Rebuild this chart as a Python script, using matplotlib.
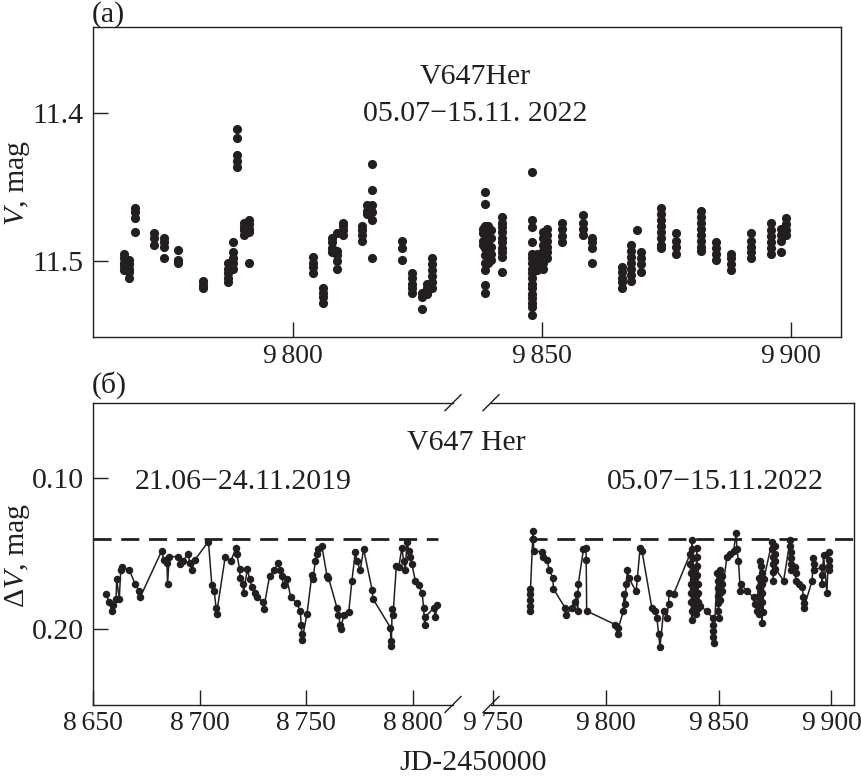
import matplotlib
matplotlib.use("Agg")
import matplotlib.pyplot as plt

plt.rcParams["font.family"] = "Liberation Serif"
plt.rcParams["mathtext.fontset"] = "custom"
plt.rcParams["mathtext.rm"] = "Liberation Serif"
plt.rcParams["mathtext.it"] = "Liberation Serif:italic"

INK = "#231f20"
FS = 21.5
TFS = 20

# (a) V magnitudes, 2022 season: one entry per night
jd_a = [9766.2, 9767.2, 9768.3, 9772.2, 9774.2, 9777.1, 9782.1, 9787.0, 9788.0, 9788.9,
        9790.2, 9791.2, 9804.1, 9806.1, 9808.0, 9809.0, 9810.1, 9814.0, 9815.0, 9816.0,
        9822.0, 9824.0, 9826.0, 9827.0, 9828.0, 9838.2, 9838.6, 9839.2, 9839.8, 9842.0,
        9848.1, 9849.0, 9850.2, 9851.0, 9854.0, 9858.2, 9860.1, 9866.2, 9868.0, 9869.2,
        9870.0, 9874.0, 9877.0, 9882.0, 9885.0, 9888.0, 9892.0, 9896.0, 9898.0, 9899.0]
v_a = [
    [11.495, 11.498, 11.501, 11.503, 11.506],
    [11.499, 11.502, 11.505, 11.507, 11.511],
    [11.464, 11.467, 11.471, 11.480],
    [11.481, 11.484, 11.489],
    [11.484, 11.487, 11.490, 11.498],
    [11.492, 11.499, 11.501],
    [11.513, 11.516, 11.518],
    [11.501, 11.505, 11.508, 11.511, 11.514],
    [11.487, 11.494, 11.498, 11.501, 11.505],
    [11.411, 11.417, 11.428, 11.432, 11.436],
    [11.474, 11.477, 11.479, 11.482],
    [11.472, 11.475, 11.478, 11.480, 11.501],
    [11.497, 11.501, 11.504, 11.508],
    [11.518, 11.521, 11.524, 11.528],
    [11.484, 11.487, 11.491, 11.494],
    [11.481, 11.493, 11.496, 11.500, 11.505],
    [11.474, 11.476, 11.479, 11.482],
    [11.476, 11.479, 11.482, 11.486],
    [11.462, 11.466, 11.468],
    [11.434, 11.452, 11.462, 11.467, 11.472, 11.498],
    [11.486, 11.491, 11.499],
    [11.508, 11.511, 11.515, 11.518, 11.521],
    [11.521, 11.524, 11.532],
    [11.515, 11.518, 11.522],
    [11.498, 11.502, 11.506, 11.510, 11.514, 11.518],
    [11.478, 11.481, 11.486, 11.489],
    [11.453, 11.461, 11.476, 11.480, 11.486, 11.491, 11.496, 11.501, 11.506, 11.516, 11.521],
    [11.476, 11.480, 11.484, 11.489, 11.493, 11.497, 11.501],
    [11.479, 11.484, 11.490, 11.495, 11.499],
    [11.470, 11.474, 11.477, 11.480, 11.484, 11.487, 11.491, 11.494, 11.497, 11.507],
    [11.440, 11.472, 11.477, 11.487, 11.495, 11.498, 11.501, 11.505, 11.508, 11.511,
     11.515, 11.518, 11.522, 11.525, 11.528, 11.531, 11.536],
    [11.495, 11.498, 11.501, 11.503, 11.506],
    [11.480, 11.484, 11.489, 11.493, 11.497, 11.501, 11.505],
    [11.478, 11.482, 11.486, 11.490, 11.494, 11.498],
    [11.474, 11.478, 11.483, 11.487],
    [11.469, 11.474, 11.478, 11.482],
    [11.484, 11.487, 11.491, 11.501],
    [11.504, 11.507, 11.511, 11.514, 11.518],
    [11.489, 11.493, 11.497, 11.501, 11.505, 11.509, 11.513],
    [11.479],
    [11.494, 11.498, 11.502, 11.507],
    [11.464, 11.468, 11.472, 11.476, 11.480, 11.484, 11.489, 11.491],
    [11.481, 11.486, 11.490, 11.495],
    [11.466, 11.470, 11.474, 11.478, 11.482, 11.486, 11.490, 11.493],
    [11.487, 11.491, 11.495, 11.499],
    [11.495, 11.498, 11.502, 11.506],
    [11.481, 11.486, 11.490, 11.494, 11.498],
    [11.474, 11.479, 11.483, 11.487, 11.491, 11.495],
    [11.478, 11.482, 11.486, 11.494],
    [11.471, 11.475, 11.479, 11.482],
]

# (б) differential magnitudes, 2019 season
jd_2019 = [8656.0, 8657.5, 8658.6, 8659.4, 8660.7, 8661.0, 8662.2, 8662.9, 8663.3, 8667.0,
           8669.6, 8671.6, 8672.0, 8682.2, 8683.0, 8684.6, 8684.9, 8685.7, 8690.0, 8690.8,
           8692.0, 8694.7, 8695.2, 8696.3, 8697.8, 8704.1, 8705.7, 8706.8, 8707.7, 8707.9,
           8712.0, 8714.6, 8717.1, 8717.4, 8718.7, 8719.0, 8720.3, 8720.6, 8722.4, 8723.4,
           8724.5, 8726.0, 8726.9, 8729.7, 8730.0, 8732.8, 8735.0, 8737.0, 8737.8, 8738.6,
           8739.4, 8741.0, 8742.8, 8745.7, 8747.2, 8747.7, 8747.9, 8748.1, 8750.4, 8752.7,
           8753.2, 8754.3, 8755.1, 8755.8, 8757.4, 8759.8, 8760.5, 8764.5, 8765.2, 8766.0,
           8766.3, 8767.6, 8770.0, 8771.5, 8773.1, 8773.9, 8775.4, 8777.0, 8781.0, 8781.4,
           8789.6, 8789.8, 8790.0, 8790.4, 8790.8, 8792.4, 8793.5, 8795.0, 8795.8, 8796.6,
           8797.4, 8798.2, 8798.9, 8799.7, 8801.3, 8802.9, 8804.5, 8805.2, 8805.7, 8806.0,
           8810.0, 8810.7, 8811.5]
dv_2019 = [0.177, 0.182, 0.188, 0.184, 0.180, 0.167, 0.180, 0.161, 0.159, 0.161,
           0.170, 0.175, 0.179, 0.148, 0.154, 0.156, 0.170, 0.152, 0.152, 0.157,
           0.155, 0.150, 0.156, 0.161, 0.154, 0.142, 0.171, 0.175, 0.186, 0.190,
           0.152, 0.155, 0.146, 0.150, 0.160, 0.166, 0.170, 0.176, 0.160, 0.167,
           0.172, 0.176, 0.179, 0.182, 0.187, 0.165, 0.161, 0.156, 0.161, 0.165,
           0.171, 0.167, 0.179, 0.183, 0.188, 0.197, 0.203, 0.207, 0.190, 0.164,
           0.167, 0.155, 0.150, 0.147, 0.145, 0.165, 0.166, 0.186, 0.191, 0.197,
           0.200, 0.191, 0.189, 0.168, 0.149, 0.155, 0.161, 0.147, 0.174, 0.180,
           0.199, 0.208, 0.211, 0.187, 0.191, 0.158, 0.159, 0.146, 0.155, 0.161,
           0.142, 0.148, 0.152, 0.157, 0.168, 0.171, 0.176, 0.186, 0.197, 0.192,
           0.186, 0.192, 0.184]

# (б) differential magnitudes, 2022 season
jd_2022 = [9766.2, 9766.3, 9766.4, 9766.5, 9766.6, 9767.6, 9767.7, 9767.9, 9768.0, 9771.6,
           9772.3, 9773.8, 9775.0, 9776.5, 9776.8, 9782.0, 9782.2, 9784.9, 9786.4, 9787.1,
           9787.5, 9787.8, 9790.1, 9791.2, 9791.3, 9791.5, 9804.1, 9805.2, 9805.6, 9807.8,
           9808.1, 9808.6, 9809.0, 9809.6, 9810.1, 9813.4, 9814.0, 9815.2, 9816.0, 9820.4,
           9821.9, 9822.6, 9823.4, 9824.0, 9825.6, 9827.0, 9827.8, 9828.0, 9830.0,
           9837.4, 9837.5, 9837.6, 9837.7, 9837.8, 9837.9, 9838.0, 9838.1,
           9838.3, 9838.4, 9838.5, 9838.6, 9838.7, 9838.8, 9838.9, 9839.0,
           9839.5, 9839.6, 9839.7, 9839.8, 9839.9, 9840.0,
           9840.3, 9840.4, 9840.5, 9840.6, 9840.7, 9840.8, 9840.9, 9841.0,
           9841.8, 9844.8, 9847.4, 9847.5, 9847.6, 9847.7, 9847.8,
           9849.4, 9849.5, 9849.6, 9849.7, 9849.8, 9849.9, 9850.0,
           9850.4, 9850.5, 9850.6, 9850.7, 9850.8, 9851.4, 9851.5, 9851.6,
           9853.7, 9855.1, 9856.6, 9857.8, 9858.1, 9858.8, 9859.6, 9859.8, 9862.6, 9865.5,
           9866.2, 9867.0, 9867.7, 9867.8, 9867.9, 9868.0, 9868.1, 9868.5,
           9868.9, 9869.0, 9869.1, 9869.2, 9869.3, 9869.4, 9869.6, 9870.0,
           9873.7, 9873.8, 9873.9, 9874.0, 9874.1, 9874.2, 9874.9, 9875.0, 9875.1, 9875.2,
           9878.8, 9881.7, 9881.8, 9881.9, 9882.0, 9882.1, 9882.2, 9884.0, 9884.1, 9884.2,
           9885.5, 9887.0, 9887.6, 9887.7, 9887.8, 9891.4, 9892.0, 9892.1, 9892.2,
           9895.7, 9895.8, 9895.9, 9896.5, 9898.0, 9898.7, 9898.8, 9898.9, 9899.0]
dv_2022 = [0.188, 0.185, 0.181, 0.177, 0.1735, 0.140, 0.1347, 0.140, 0.148, 0.149,
           0.152, 0.154, 0.161, 0.166, 0.1735, 0.186, 0.191, 0.186, 0.182, 0.177,
           0.188, 0.170, 0.147, 0.146, 0.154, 0.188, 0.197, 0.203, 0.199, 0.188,
           0.177, 0.1835, 0.170, 0.161, 0.166, 0.175, 0.166, 0.146, 0.148, 0.186,
           0.188, 0.1925, 0.203, 0.212, 0.188, 0.1925, 0.1835, 0.176, 0.177,
           0.150, 0.157, 0.163, 0.170, 0.176, 0.182, 0.188, 0.194,
           0.141, 0.147, 0.153, 0.160, 0.167, 0.173, 0.180, 0.186,
           0.160, 0.166, 0.172, 0.178, 0.184, 0.190,
           0.146, 0.152, 0.158, 0.164, 0.170, 0.176, 0.182, 0.186,
           0.185, 0.188, 0.193, 0.197, 0.201, 0.205, 0.209,
           0.163, 0.168, 0.173, 0.178, 0.183, 0.188, 0.193,
           0.161, 0.166, 0.171, 0.176, 0.181, 0.165, 0.170, 0.175,
           0.152, 0.150, 0.148, 0.1365, 0.147, 0.155, 0.175, 0.170, 0.175, 0.179,
           0.1835, 0.188, 0.166, 0.172, 0.178, 0.184, 0.190, 0.155,
           0.158, 0.163, 0.170, 0.196, 0.176, 0.182, 0.189, 0.167,
           0.142, 0.147, 0.152, 0.157, 0.162, 0.168, 0.145, 0.150, 0.155, 0.160,
           0.168, 0.141, 0.145, 0.149, 0.153, 0.157, 0.161, 0.159, 0.163, 0.168,
           0.170, 0.172, 0.179, 0.183, 0.186, 0.168, 0.153, 0.157, 0.161,
           0.159, 0.164, 0.170, 0.151, 0.176, 0.149, 0.154, 0.158, 0.161]

level_b = 0.14

fig = plt.figure(figsize=(8.62, 7.83), dpi=100)

tick_kw = dict(direction="in", length=11, width=1.0, labelsize=TFS, colors=INK)


def thin(v):
    s = f"{v:.0f}"
    return s[0] + "\u2006" + s[1:]


# --- panel (a)
top_px = 27
ax = fig.add_axes([0.1082, 1 - 337 / 783, 0.8671, (337 - top_px) / 783])
xs = [j for j, vs in zip(jd_a, v_a) for _ in vs]
ys = [v for vs in v_a for v in vs]
ax.plot(xs, ys, "o", color=INK, ms=6.6, mec="none")
ax.set_xlim(9760, 9910)
ax.set_ylim(11.551, 11.4 - (113 - top_px) / 1480)
ax.set_xticks([9800, 9850, 9900])
ax.set_xticklabels([thin(t) for t in [9800, 9850, 9900]])
ax.set_yticks([11.4, 11.5])
ax.set_yticklabels(["11.4", "11.5"])
ax.tick_params(axis="x", pad=5, **tick_kw)
ax.tick_params(axis="y", pad=7, **tick_kw)
ax.yaxis.set_tick_params(labelsize=FS)
for s in ax.spines.values():
    s.set_linewidth(1.0)
    s.set_color(INK)
fig.text(475 / 862, 1 - 77 / 783, "V647Her", ha="center", va="center", fontsize=FS, color=INK)
fig.text(475 / 862, 1 - 114 / 783, "05.07\u221215.11. 2022", ha="center", va="center",
         fontsize=FS, color=INK)

# --- panel (б), broken axis
bot, h = 1 - 704.5 / 783, (704.5 - 402.7) / 783
axl = fig.add_axes([93.3 / 862, bot, (453 - 93.3) / 862, h])
axr = fig.add_axes([491 / 862, bot, (854 - 491) / 862, h])

axl.plot(jd_2019, dv_2019, "-o", color=INK, lw=1.1, ms=5.4, mec="none")
axr.plot(jd_2022, dv_2022, "-o", color=INK, lw=1.1, ms=5.4, mec="none")
axl.plot([8650, 8812], [level_b, level_b], color=INK, lw=2.0, dashes=(6.5, 3.5))
axr.plot([9766, 9910], [level_b, level_b], color=INK, lw=2.0, dashes=(6.5, 3.5))

axl.set_xlim(8650, 8819)
axr.set_xlim(9749.1, 9910)
for a in (axl, axr):
    a.set_ylim(0.25, 0.05)
    a.tick_params(axis="x", pad=5, **tick_kw)
    a.tick_params(axis="y", pad=7, **tick_kw)
    a.yaxis.set_tick_params(labelsize=FS)
    for s in a.spines.values():
        s.set_linewidth(1.0)
        s.set_color(INK)
axl.set_xticks([8650, 8700, 8750, 8800])
axl.set_xticklabels([thin(t) for t in [8650, 8700, 8750, 8800]])
axl.set_yticks([0.10, 0.20])
axl.set_yticklabels(["0.10", "0.20"])
axr.set_xticks([9750, 9800, 9850, 9900])
axr.set_xticklabels([thin(t) for t in [9750, 9800, 9850, 9900]])
axr.set_yticks([])
axl.spines["right"].set_visible(False)
axr.spines["left"].set_visible(False)

# break marks
for a, xa in ((axl, 1.0), (axr, 0.0)):
    bb = a.get_position()
    dx = 8 / (bb.width * 862)
    dy = 8 / (bb.height * 783)
    for ya in (0.0, 1.0):
        a.plot([xa - dx, xa + dx], [ya - dy, ya + dy], transform=a.transAxes,
               color=INK, lw=1.0, clip_on=False)

fig.text(243 / 862, 1 - 482 / 783, "21.06\u221224.11.2019", ha="center", va="center",
         fontsize=FS, color=INK)
fig.text(715 / 862, 1 - 482 / 783, "05.07\u221215.11.2022", ha="center", va="center",
         fontsize=FS, color=INK)
fig.text(466 / 862, 1 - 443 / 783, "V647 Her", ha="center", va="center", fontsize=FS, color=INK)

fig.text(92 / 862, 1 - 15 / 783, "(a)", ha="left", va="center", fontsize=FS, color=INK)
fig.text(92 / 862, 1 - 385 / 783, "(\u0431)", ha="left", va="center", fontsize=FS, color=INK)
fig.text(18 / 862, 1 - 183 / 783, r"$V$, mag", rotation=90, ha="center", va="center",
         fontsize=FS, color=INK)
fig.text(18 / 862, 1 - 555 / 783, r"$\Delta V$, mag", rotation=90, ha="center", va="center",
         fontsize=FS, color=INK)
fig.text(473 / 862, 1 - 763 / 783, "JD-2450000", ha="center", va="center", fontsize=FS, color=INK)

fig.savefig("out.png", dpi=100)
